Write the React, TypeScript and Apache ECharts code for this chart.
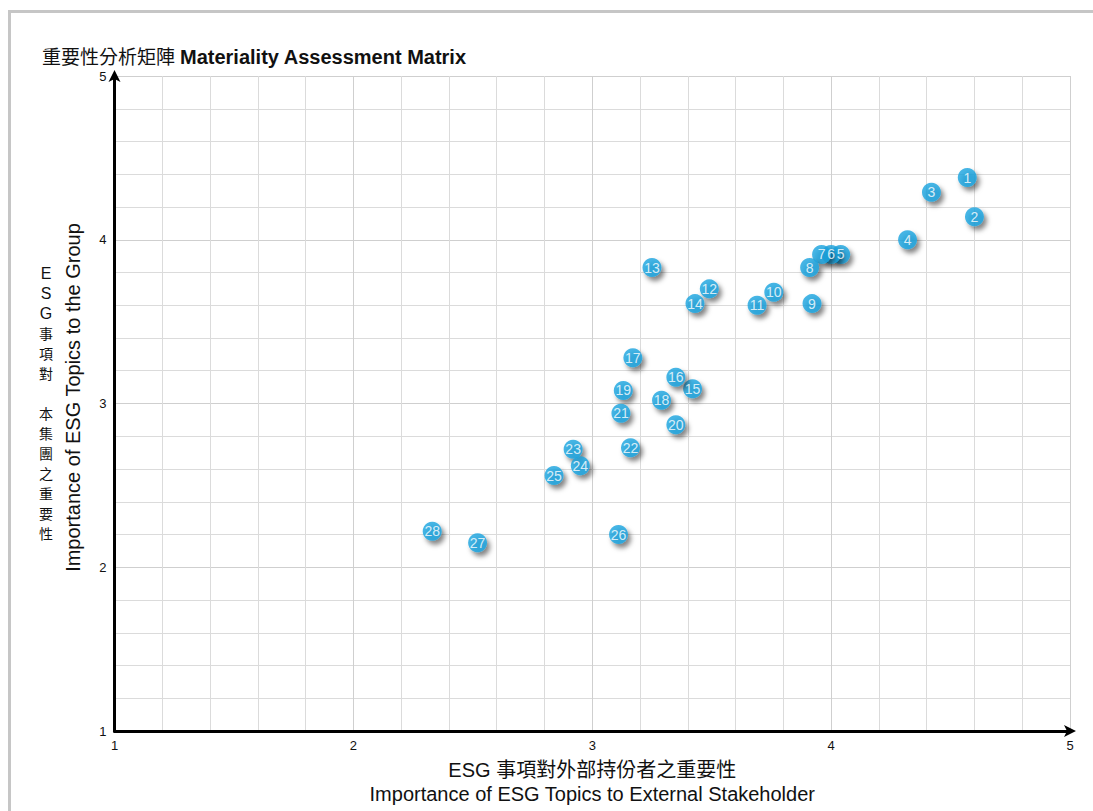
import React, { useEffect, useRef } from "react";
import * as echarts from "echarts";

const topicIds = [1, 2, 3, 4, 5, 6, 7, 8, 9, 10, 11, 12, 13, 14, 15, 16, 17, 18, 19, 20, 21, 22, 23, 24, 25, 26, 27, 28];
const externalImportance = [4.57, 4.6, 4.42, 4.32, 4.04, 4.0, 3.96, 3.91, 3.92, 3.76, 3.69, 3.49, 3.25, 3.43, 3.42, 3.35, 3.17, 3.29, 3.13, 3.35, 3.12, 3.16, 2.92, 2.95, 2.84, 3.11, 2.52, 2.33];
const groupImportance = [4.38, 4.14, 4.29, 4.0, 3.91, 3.91, 3.91, 3.83, 3.61, 3.68, 3.6, 3.7, 3.83, 3.61, 3.09, 3.16, 3.28, 3.02, 3.08, 2.87, 2.94, 2.73, 2.72, 2.62, 2.56, 2.2, 2.15, 2.22];
const axisTicks = [1, 2, 3, 4, 5];

const titleCn = "重要性分析矩陣";
const titleEn = "Materiality Assessment Matrix";
const xNameCn = "ESG 事項對外部持份者之重要性";
const xNameEn = "Importance of ESG Topics to External Stakeholder";
const yNameEn = "Importance of ESG Topics to the Group";
const yNameCnChars = ["E", "S", "G", "事", "項", "對", " ", "本", "集", "團", "之", "重", "要", "性"];

const LATIN = "'Liberation Sans', Arial, Helvetica, sans-serif";
const CJK = "'Liberation Sans', 'Noto Sans CJK TC', sans-serif";

export default function App() {
  const ref = useRef<HTMLDivElement>(null);
  useEffect(() => {
    if (!ref.current) return;
    const chart = echarts.init(ref.current, null, { renderer: "svg" });
    const points = topicIds.map((id, i) => ({ name: String(id), value: [externalImportance[i], groupImportance[i]] }));
    const axisCommon = {
      type: "value",
      min: axisTicks[0],
      max: axisTicks[axisTicks.length - 1],
      interval: 1,
      axisLine: {
        show: true,
        lineStyle: { color: "#000", width: 3 },
        symbol: ["none", "arrow"],
        symbolSize: [9, 12],
        symbolOffset: [0, 6],
      },
      axisTick: { show: false },
      splitLine: { show: true, lineStyle: { color: "#cfcfcf", width: 1 } },
      minorTick: { show: false, splitNumber: 5 },
      minorSplitLine: { show: true, lineStyle: { color: "#dbdbdb", width: 1 } },
      axisLabel: { color: "#111", fontSize: 13, fontFamily: LATIN },
    };
    const cnTexts = yNameCnChars
      .map((ch, i) => ({ ch, i }))
      .filter((d) => d.ch.trim() !== "")
      .map(({ ch, i }) => ({
        type: "text",
        x: 46,
        y: 273 + i * 20,
        style: {
          text: ch,
          font: /[A-Z]/.test(ch)
            ? "16px 'Liberation Sans', Arial, sans-serif"
            : "14px 'Noto Sans CJK TC', sans-serif",
          align: "center",
          verticalAlign: "middle",
          fill: "#111",
        },
      }));
    chart.setOption({
      animation: false,
      backgroundColor: "#fff",
      title: {
        left: 37,
        top: 42,
        text: "{a|" + titleCn + "} {b|" + titleEn + "}",
        textStyle: {
          rich: {
            a: { fontSize: 19, fontWeight: "normal", fontFamily: CJK, color: "#111" },
            b: { fontSize: 20, fontWeight: "bold", fontFamily: LATIN, color: "#111" },
          },
        },
      },
      grid: { left: 114.5, right: 23, top: 76, bottom: 75 },
      xAxis: {
        ...axisCommon,
        axisLabel: { ...axisCommon.axisLabel, margin: 8 },
        name: xNameCn + "\n" + xNameEn,
        nameLocation: "middle",
        nameGap: 27,
        nameTextStyle: { fontSize: 20, lineHeight: 24, color: "#111", fontFamily: CJK },
      },
      yAxis: {
        ...axisCommon,
        axisLabel: { ...axisCommon.axisLabel, margin: 8 },
        name: yNameEn,
        nameLocation: "middle",
        nameRotate: 90,
        nameGap: 32,
        nameTextStyle: { fontSize: 20, color: "#111", fontFamily: LATIN, padding: [0, 0, 0, 12] },
      },
      graphic: [
        {
          type: "rect",
          shape: { x: 9.5, y: 11.5, width: 1200, height: 900 },
          style: { fill: "none", stroke: "#c6c6c6", lineWidth: 3 },
          silent: true,
          z: 100,
        },
        ...cnTexts,
      ],
      series: [
        {
          type: "scatter",
          data: points,
          symbol: "circle",
          symbolSize: 19,
          itemStyle: {
            color: "#1ba4de",
            shadowColor: "rgba(0,0,0,0.6)",
            shadowBlur: 5,
            shadowOffsetX: 3,
            shadowOffsetY: 4,
          },
          label: {
            show: true,
            position: "inside",
            formatter: "{b}",
            color: "#fff",
            fontSize: 14,
            fontFamily: LATIN,
          },
        },
      ],
    });
    return () => chart.dispose();
  }, []);
  return <div ref={ref} style={{ position: "absolute", left: 0, top: 0, width: 1093, height: 811 }} />;
}
